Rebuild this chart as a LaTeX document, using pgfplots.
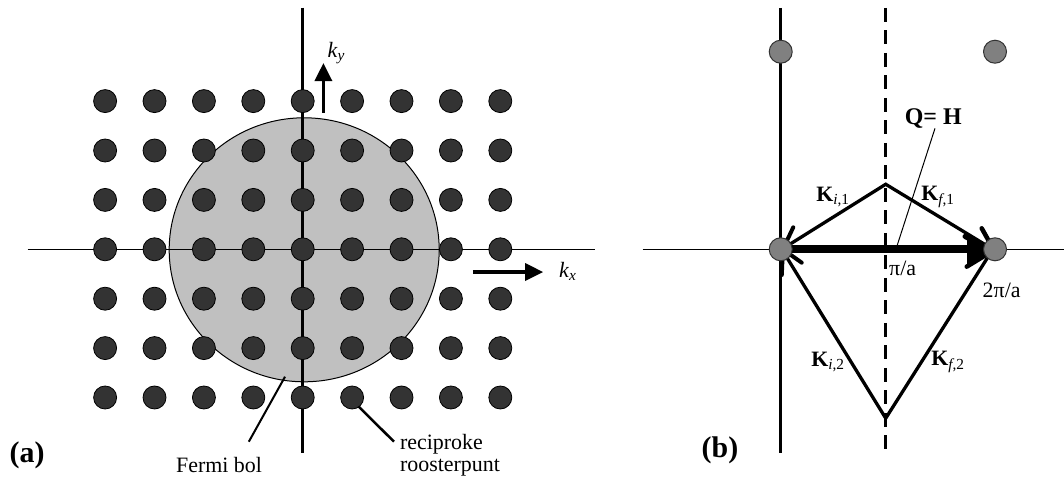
\documentclass[border=0pt]{standalone}
\usepackage{fontspec}
\setmainfont{Liberation Serif}
\usepackage{pgfplots}
\pgfplotsset{compat=1.18}
\usetikzlibrary{arrows.meta}
\definecolor{dotdark}{HTML}{333333}
\definecolor{dotgrey}{HTML}{808080}
\definecolor{fermi}{HTML}{C0C0C0}
\newcommand\fs{\fontsize{22}{25}\selectfont}
\newcommand\fsb{\fontsize{30}{32}\selectfont\bfseries}
\begin{document}
\begin{tikzpicture}
\useasboundingbox (0,0) rectangle (1064bp,479bp);
% ---------------- panel (a) ----------------
\begin{axis}[at={(0,0)}, anchor=south west, scale only axis,
  width=620bp, height=479bp, hide axis, clip=false,
  xmin=-6.128, xmax=6.423, ymin=-4.650, ymax=5.047]
  % Fermi sphere
  \draw[fill=fermi, line width=1bp] (axis cs:0.03,-0.01) ellipse [x radius=135bp, y radius=132bp];
  % axes
  \addplot[black, line width=1.3bp] coordinates {(-5.57,0) (5.917,0)};
  \addplot[black, line width=2.5bp] coordinates {(0,4.89) (0,-4.12)};
  % reciprocal lattice points
  \addplot[only marks, mark=*, mark size=11.5bp,
    mark options={fill=dotdark, draw=black, line width=0.8bp}] coordinates {
    (-4,3) (-3,3) (-2,3) (-1,3) (0,3) (1,3) (2,3) (3,3) (4,3)
    (-4,2) (-3,2) (-2,2) (-1,2) (0,2) (1,2) (2,2) (3,2) (4,2)
    (-4,1) (-3,1) (-2,1) (-1,1) (0,1) (1,1) (2,1) (3,1) (4,1)
    (-4,0) (-3,0) (-2,0) (-1,0) (0,0) (1,0) (2,0) (3,0) (4,0)
    (-4,-1) (-3,-1) (-2,-1) (-1,-1) (0,-1) (1,-1) (2,-1) (3,-1) (4,-1)
    (-4,-2) (-3,-2) (-2,-2) (-1,-2) (0,-2) (1,-2) (2,-2) (3,-2) (4,-2)
    (-4,-3) (-3,-3) (-2,-3) (-1,-3) (0,-3) (1,-3) (2,-3) (3,-3) (4,-3)};
  % k arrows
  \addplot[black, line width=3.3bp, -{Triangle[length=18bp,width=17bp]}]
    coordinates {(0.419,2.765) (0.419,3.771)};
  \addplot[black, line width=3.3bp, -{Triangle[length=18bp,width=17bp]}]
    coordinates {(3.447,-0.46) (4.868,-0.46)};
  \node[font=\fs] at (axis cs:0.68,3.98) {\textit{k}\textsubscript{\textit{y}}};
  \node[font=\fs, anchor=west] at (axis cs:5.12,-0.44) {\textit{k}\textsubscript{\textit{x}}};
  % leaders
  \addplot[black, line width=2bp] coordinates {(-1.091,-3.895) (-0.358,-2.579)};
  \addplot[black, line width=2.5bp] coordinates {(1.079,-3.13) (1.848,-3.895)};
  \node[font=\fs] at (axis cs:-1.694,-4.367) {Fermi bol};
  \node[font=\fs, anchor=west, align=left] at (axis cs:1.90,-4.16)
    {reciproke\\[-3bp]roosterpunt};
  \node[font=\fsb] at (axis cs:-5.58,-4.18) {(a)};
\end{axis}
% ---------------- panel (b) ----------------
\begin{axis}[at={(620bp,0)}, anchor=south west, scale only axis,
  width=444bp, height=479bp, hide axis, clip=false,
  xmin=-1.5, xmax=2.644, ymin=-2.1437, ymax=2.3266]
  \addplot[black, line width=1.3bp] coordinates {(-1.29,0) (2.644,0)};
  \addplot[black, line width=2.5bp] coordinates {(0,2.252) (0,-1.901)};
  \addplot[black, line width=2.5bp, dash pattern=on 14bp off 8.5bp]
    coordinates {(0.98,2.252) (0.98,-1.901)};
  \addplot[only marks, mark=*, mark size=11.5bp,
    mark options={fill=dotgrey, draw=dotdark, line width=1bp}] coordinates {
    (0,1.844) (2,1.844) (0,0) (2,0)};
  % wave vectors (kite)
  \addplot[black, line width=3.3bp, line join=miter] coordinates {(0.01,0) (0.98,0.607) (1.98,0)};
  \addplot[black, line width=3.3bp, line join=miter] coordinates {(0.01,0) (0.98,-1.577) (1.98,0)};
  % Q = H
  \addplot[black, line width=8bp, -{Triangle[length=28bp,width=30bp]}]
    coordinates {(0.02,0) (2.0,0)};
  % arrowhead barbs
  \addplot[black, line width=4bp, line cap=round] coordinates {(0.117,0.205) (0.02,0) (0.196,-0.125)};
  \addplot[black, line width=4bp, line cap=round] coordinates {(0.02,0) (0.01,-0.24)};
  \addplot[black, line width=4.5bp, line cap=round] coordinates {(1.876,0.196) (1.98,0.01)};
  \addplot[black, line width=4.5bp, line cap=round] coordinates {(1.736,-0.162) (1.97,-0.02)};
  \addplot[black, line width=5bp, line cap=round] coordinates {(1.72,0.12) (1.86,0.045)};
  % leader for Q
  \addplot[black, line width=1bp] coordinates {(1.44,1.129) (1.083,0.024)};
  \node[font=\fontsize{24}{26}\selectfont\bfseries] at (axis cs:1.424,1.223) {Q= H};
  \node[font=\fs] at (axis cs:0.488,0.491) {\textbf{K}\textsubscript{\textit{i},1}};
  \node[font=\fs] at (axis cs:1.468,0.491) {\textbf{K}\textsubscript{\textit{f},1}};
  \node[font=\fs] at (axis cs:0.441,-1.049) {\textbf{K}\textsubscript{\textit{i},2}};
  \node[font=\fs] at (axis cs:1.561,-1.049) {\textbf{K}\textsubscript{\textit{f},2}};
  \node[font=\fs, anchor=west] at (axis cs:0.98,-0.177) {π/a};
  \node[font=\fs] at (axis cs:2.062,-0.38) {2π/a};
  \node[font=\fsb] at (axis cs:-0.567,-1.875) {(b)};
\end{axis}
\end{tikzpicture}
\end{document}
